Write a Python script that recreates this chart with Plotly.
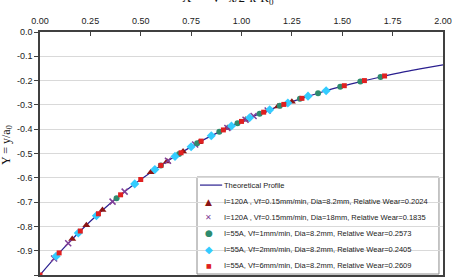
import plotly.graph_objects as go

# Theoretical profile
theo_x = [0.0, 0.1, 0.2, 0.3, 0.4, 0.5, 0.6, 0.7, 0.8, 0.9, 1.0, 1.1, 1.2, 1.3, 1.4,
          1.5, 1.6, 1.7, 1.8, 1.9, 2.0]
theo_y = [-1.000, -0.905, -0.819, -0.741, -0.670, -0.607, -0.549, -0.497, -0.449,
          -0.407, -0.368, -0.333, -0.301, -0.273, -0.247, -0.223, -0.202, -0.183,
          -0.165, -0.150, -0.135]

# I=120A, Vf=0.15, Dia=8.2 (dark red triangles)
s1_x = [0.16, 0.23, 0.31, 0.55, 0.63, 0.71, 0.79, 0.93, 1.02, 1.18, 1.25]
s1_y = [-0.852, -0.795, -0.733, -0.577, -0.533, -0.492, -0.454, -0.395, -0.361, -0.307, -0.287]

# I=120A, Vf=0.15, Dia=18 (purple crosses)
s2_x = [0.07, 0.14, 0.36, 0.42, 0.635, 0.77, 0.93, 1.02, 1.06, 1.13]
s2_y = [-0.932, -0.869, -0.698, -0.657, -0.530, -0.463, -0.395, -0.361, -0.346, -0.323]

# I=55A, Vf=1 (teal circles)
s3_x = [0.38, 0.60, 0.69, 0.78, 0.89, 0.98, 1.09, 1.19, 1.29, 1.38, 1.49, 1.59, 1.69]
s3_y = [-0.684, -0.549, -0.502, -0.458, -0.411, -0.375, -0.336, -0.304, -0.275, -0.252,
        -0.225, -0.204, -0.185]

# I=55A, Vf=2 (cyan diamonds)
s4_x = [0.08, 0.19, 0.28, 0.47, 0.57, 0.67, 0.75, 0.85, 0.95, 1.04, 1.14, 1.23, 1.33, 1.42]
s4_y = [-0.923, -0.827, -0.756, -0.625, -0.566, -0.512, -0.472, -0.427, -0.387, -0.353,
        -0.320, -0.292, -0.264, -0.242]

# I=55A, Vf=6 (red squares)
s5_x = [0.0, 0.095, 0.20, 0.29, 0.40, 0.50, 0.60, 0.70, 0.80, 0.91, 1.00, 1.11, 1.21,
        1.30, 1.51, 1.61, 1.71]
s5_y = [-1.000, -0.909, -0.819, -0.748, -0.670, -0.607, -0.549, -0.497, -0.449, -0.403,
        -0.368, -0.330, -0.298, -0.273, -0.221, -0.200, -0.181]

names = [
    "Theoretical Profile",
    "I=120A , Vf=0.15mm/min, Dia=8.2mm, Relative Wear=0.2024",
    "I=120A , Vf=0.15mm/min, Dia=18mm, Relative Wear=0.1835",
    "I=55A, Vf=1mm/min, Dia=8.2mm, Relative Wear=0.2573",
    "I=55A, Vf=2mm/min, Dia=8.2mm, Relative Wear=0.2405",
    "I=55A, Vf=6mm/min, Dia=8.2mm, Relative Wear=0.2609",
]
colors = ["#2A1F8F", "#8B1414", "#7F3F98", "#2E8B6E", "#33CCFF", "#E02020"]
glyphs = [None, "▲", "✕", "●", "◆", "■"]
glyph_sizes = [None, 9, 8, 9, 10, 6]

x_ticks = [0.0, 0.25, 0.5, 0.75, 1.0, 1.25, 1.5, 1.75, 2.0]
x_ticktext = ["0.00", "0.25", "0.50", "0.75", "1.00", "1.25", "1.50", "1.75", "2.00"]
y_ticks = [0.0, -0.1, -0.2, -0.3, -0.4, -0.5, -0.6, -0.7, -0.8, -0.9, -1.0]
y_ticktext = ["0.0", "-0.1", "-0.2", "-0.3", "-0.4", "-0.5", "-0.6", "-0.7", "-0.8", "-0.9", "-1.0"]

fig = go.Figure()
fig.add_trace(go.Scatter(x=theo_x, y=theo_y, mode="lines", name=names[0],
                         line=dict(color=colors[0], width=1.2, shape="spline")))
fig.add_trace(go.Scatter(x=s1_x, y=s1_y, mode="markers", name=names[1],
                         marker=dict(symbol="triangle-up", size=7, color=colors[1])))
fig.add_trace(go.Scatter(x=s2_x, y=s2_y, mode="markers", name=names[2],
                         marker=dict(symbol="x-thin", size=6, color=colors[2],
                                     line=dict(color=colors[2], width=1.5))))
fig.add_trace(go.Scatter(x=s3_x, y=s3_y, mode="markers", name=names[3],
                         marker=dict(symbol="circle", size=6, color=colors[3])))
fig.add_trace(go.Scatter(x=s4_x, y=s4_y, mode="markers", name=names[4],
                         marker=dict(symbol="diamond", size=7, color=colors[4])))
fig.add_trace(go.Scatter(x=s5_x, y=s5_y, mode="markers", name=names[5],
                         marker=dict(symbol="square", size=5, color=colors[5])))

font_sans = "Liberation Sans, Arial, sans-serif"
font_serif = "Liberation Serif, Times New Roman, serif"

# Custom legend (box, line sample, symbols, labels) in paper coordinates
leg_x0, leg_x1, leg_y0, leg_y1 = 0.3896, 0.990, 0.004, 0.403
row_y = [0.370, 0.302, 0.237, 0.171, 0.105, 0.039]
sym_x = 0.419
text_x = 0.452

shapes = [
    dict(type="rect", xref="paper", yref="paper", x0=leg_x0, x1=leg_x1, y0=leg_y0, y1=leg_y1,
         fillcolor="white", line=dict(color="#8C8C8C", width=1), layer="between"),
    dict(type="line", xref="paper", yref="paper", x0=0.397, x1=0.452, y0=row_y[0], y1=row_y[0],
         line=dict(color=colors[0], width=1.2)),
]

annotations = [
    dict(text="X  =  V· x/2·k·R<sub>0</sub>", xref="paper", yref="paper",
         x=0.466, y=1.095, xanchor="center", yanchor="bottom", showarrow=False,
         font=dict(family=font_serif, size=13, color="#111")),
    dict(text="Y = y/a<sub>0</sub>", xref="paper", yref="paper",
         x=-0.082, y=0.535, xanchor="center", yanchor="middle", showarrow=False,
         textangle=-90, font=dict(family=font_serif, size=12, color="#111")),
]
for i, nm in enumerate(names):
    annotations.append(dict(text=nm, xref="paper", yref="paper", x=text_x, y=row_y[i],
                            xanchor="left", yanchor="middle", showarrow=False,
                            font=dict(family=font_sans, size=7.5, color="#222")))
    if glyphs[i]:
        annotations.append(dict(text=glyphs[i], xref="paper", yref="paper", x=sym_x, y=row_y[i],
                                xanchor="center", yanchor="middle", showarrow=False,
                                font=dict(family="DejaVu Sans", size=glyph_sizes[i],
                                          color=colors[i])))

fig.update_layout(
    width=452, height=278,
    margin=dict(l=40, r=9, t=32, b=3, autoexpand=False),
    paper_bgcolor="white", plot_bgcolor="white",
    font=dict(family=font_sans, size=9, color="#222"),
    showlegend=False,
    xaxis=dict(side="top", range=[0, 2], tickvals=x_ticks, ticktext=x_ticktext,
               showgrid=False, zeroline=False, showline=True, mirror=True,
               linecolor="#404040", linewidth=1.5, ticks="inside", ticklen=4,
               tickcolor="#404040", tickfont=dict(size=9), ticklabelstandoff=3),
    yaxis=dict(range=[-1, 0], tickvals=y_ticks, ticktext=y_ticktext,
               showgrid=True, gridcolor="#D9D9D9", gridwidth=1, zeroline=False,
               showline=True, mirror=True, linecolor="#404040", linewidth=1.5,
               ticks="outside", ticklen=4, tickcolor="#404040", tickfont=dict(size=9)),
    shapes=shapes,
    annotations=annotations,
)

fig.write_html("out.html")
